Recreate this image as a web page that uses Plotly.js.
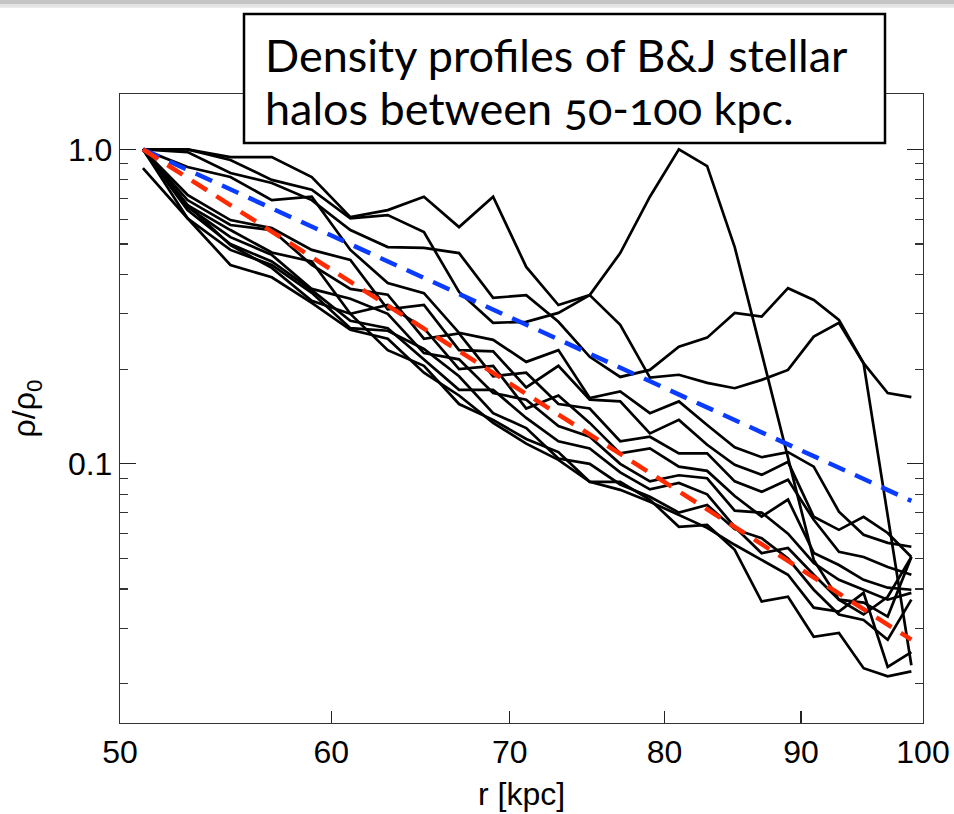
<!DOCTYPE html>
<html>
<head>
<meta charset="utf-8">
<script src="https://cdn.plot.ly/plotly-3.0.1.min.js"></script>
<style>
  html, body { margin: 0; padding: 0; background: #fff; }
  #chart { width: 954px; height: 814px; }
  .annotation-text { font-variant-numeric: oldstyle-nums; font-feature-settings: "onum" 1; }
</style>
</head>
<body>
<div id="chart"></div>
<script>
// radii of the profile samples [kpc]
const radius = [51,53,55,57,59,61,63,65,67,69,71,73,75,77,79,81,83,85,87,89,91,93,95,97,99];

// normalised density profiles rho/rho0 of the individual B&J stellar halos
const halo1  = [1.0,1.0,0.945,0.945,0.817,0.609,0.641,0.707,0.566,0.707,0.423,0.320,0.344,0.468,0.707,1.0,0.885,0.489,0.225,0.105,0.0495,0.037,0.0332,0.0378,0.0506];
const halo2  = [1.0,0.98,0.841,0.782,0.69,0.554,0.489,0.486,0.468,0.337,0.344,0.283,0.219,0.189,0.199,0.236,0.252,0.302,0.294,0.362,0.332,0.287,0.209,0.168,0.163];
const halo3  = [1.0,1.0,0.925,0.80,0.744,0.604,0.618,0.546,0.352,0.281,0.283,0.302,0.344,0.277,0.188,0.192,0.181,0.174,0.185,0.199,0.254,0.281,0.209,0.0679,0.0229];
const halo4  = [1.0,0.879,0.817,0.69,0.707,0.479,0.376,0.349,0.261,0.248,0.211,0.230,0.162,0.170,0.145,0.158,0.133,0.113,0.105,0.109,0.098,0.0705,0.0595,0.0561,0.0545];
const halo5  = [1.0,0.717,0.596,0.562,0.479,0.445,0.310,0.320,0.230,0.228,0.175,0.205,0.160,0.158,0.125,0.138,0.115,0.0993,0.0923,0.1015,0.0679,0.0617,0.0679,0.0603,0.0506];
const halo6  = [1.0,0.69,0.575,0.554,0.429,0.36,0.345,0.25,0.26,0.19,0.195,0.155,0.15,0.118,0.122,0.108,0.108,0.088,0.0815,0.089,0.0664,0.0525,0.0506,0.047,0.0444];
const halo7  = [1.0,0.665,0.554,0.47,0.44,0.30,0.32,0.27,0.20,0.205,0.15,0.165,0.135,0.108,0.112,0.098,0.095,0.079,0.068,0.077,0.0521,0.0477,0.0428,0.0404,0.0398];
const halo8  = [1.0,0.656,0.526,0.462,0.36,0.335,0.30,0.225,0.215,0.168,0.16,0.132,0.122,0.10,0.088,0.092,0.09,0.071,0.07,0.06,0.0484,0.0428,0.0398,0.037,0.0389];
const halo9  = [1.0,0.641,0.50,0.44,0.357,0.285,0.27,0.215,0.172,0.172,0.14,0.118,0.112,0.094,0.083,0.087,0.08,0.063,0.052,0.054,0.0444,0.037,0.0362,0.0327,0.0506];
const halo10 = [1.0,0.604,0.479,0.429,0.35,0.27,0.265,0.232,0.19,0.145,0.13,0.104,0.10,0.086,0.0786,0.07,0.074,0.062,0.058,0.05,0.0398,0.0332,0.0319,0.0276,0.037];
const halo11 = [0.872,0.604,0.429,0.392,0.325,0.267,0.25,0.195,0.165,0.135,0.116,0.103,0.0877,0.0827,0.0758,0.0689,0.0626,0.0553,0.0495,0.0444,0.0349,0.0339,0.0389,0.0226,0.0252];
const halo12 = [1.0,0.665,0.496,0.42,0.33,0.30,0.23,0.205,0.155,0.138,0.12,0.109,0.0877,0.0877,0.0769,0.0631,0.064,0.0533,0.0365,0.0378,0.0282,0.029,0.0224,0.0211,0.0219];

// reference profiles (dashed)
const blueR = [51, 70, 99];
const blueV = [1.0, 0.293, 0.0763];
const redR  = [51, 70, 99];
const redV  = [1.0, 0.181, 0.0276];

// axis ticks
const xTickVals = [50, 60, 70, 80, 90, 100];
const xTickText = ['50', '60', '70', '80', '90', '100'];
const yTickVals = [0.1, 1.0];
const yTickText = ['0.1', '1.0'];
const yMinorVals = [0.02,0.03,0.04,0.05,0.06,0.07,0.08,0.09,0.2,0.3,0.4,0.5,0.6,0.7,0.8,0.9];

const titleLines = ['Density profiles of B&amp;J stellar', 'halos between 50-100 kpc.'];

const halos = [halo1,halo2,halo3,halo4,halo5,halo6,halo7,halo8,halo9,halo10,halo11,halo12];
const traces = halos.map(h => ({
  x: radius, y: h, type: 'scatter', mode: 'lines',
  line: {color: '#000000', width: 2.7}, hoverinfo: 'skip'
}));
traces.push({x: blueR, y: blueV, type: 'scatter', mode: 'lines',
  line: {color: '#0a3cff', width: 4.5, dash: '18px,11px'}, hoverinfo: 'skip'});
traces.push({x: redR, y: redV, type: 'scatter', mode: 'lines',
  line: {color: '#ff2a00', width: 4.5, dash: '18px,11px'}, hoverinfo: 'skip'});

const tickFont = {family: 'Liberation Sans, Arial, sans-serif', size: 32, color: '#000'};
const boxFont = {family: 'Lato, Open Sans, sans-serif', size: 45, color: '#000'};

const layout = {
  width: 954, height: 814,
  margin: {l: 120, r: 31, t: 94, b: 91, pad: 0},
  paper_bgcolor: '#fff', plot_bgcolor: '#fff',
  showlegend: false,
  xaxis: {
    type: 'log', range: [Math.log10(50), 2],
    tickmode: 'array', tickvals: xTickVals, ticktext: xTickText,
    ticks: 'inside', ticklen: 12, tickwidth: 1.2, tickcolor: '#222',
    showline: true, linecolor: '#333', linewidth: 1.2, mirror: 'ticks',
    showgrid: false, zeroline: false,
    tickfont: tickFont,
    title: {text: 'r [kpc]', font: tickFont, standoff: 14}
  },
  yaxis: {
    type: 'log', range: [Math.log10(0.015), Math.log10(1.5)],
    tickmode: 'array', tickvals: yTickVals, ticktext: yTickText,
    ticks: 'inside', ticklen: 16, tickwidth: 1.2, tickcolor: '#222',
    minor: {tickmode: 'array', tickvals: yMinorVals, ticks: 'inside', ticklen: 8, tickwidth: 1.2, tickcolor: '#333', showgrid: false},
    showline: true, linecolor: '#333', linewidth: 1.2, mirror: 'ticks',
    showgrid: false, zeroline: false,
    tickfont: tickFont,
    title: {text: 'ρ/ρ<sub>0</sub>', font: {family: 'Liberation Sans, Arial, sans-serif', size: 32, color: '#000'}, standoff: 22}
  },
  shapes: [
    {type: 'rect', xref: 'paper', yref: 'paper', x0: -0.2, x1: 1.1, y0: 1.1494, y1: 1.1430,
     fillcolor: '#c4c4c4', line: {width: 0}, layer: 'above'},
    {type: 'rect', xref: 'paper', yref: 'paper', x0: -0.2, x1: 1.1, y0: 1.1430, y1: 1.1370,
     fillcolor: '#e4e4e4', line: {width: 0}, layer: 'above'},
    {type: 'rect', xref: 'paper', yref: 'paper', x0: 0.15442, x1: 0.95268, y0: 0.92210, y1: 1.12719,
     fillcolor: '#ffffff', line: {color: '#000', width: 2.5}, layer: 'above'}
  ],
  annotations: [
    {xref: 'paper', yref: 'paper', x: 0.1781, y: 1.0620, xanchor: 'left', yanchor: 'middle',
     text: titleLines[0], showarrow: false, font: boxFont, align: 'left'},
    {xref: 'paper', yref: 'paper', x: 0.1781, y: 0.9770, xanchor: 'left', yanchor: 'middle',
     text: titleLines[1], showarrow: false, font: boxFont, align: 'left'}
  ]
};

Plotly.newPlot('chart', traces, layout, {staticPlot: true, displayModeBar: false});
</script>
</body>
</html>
